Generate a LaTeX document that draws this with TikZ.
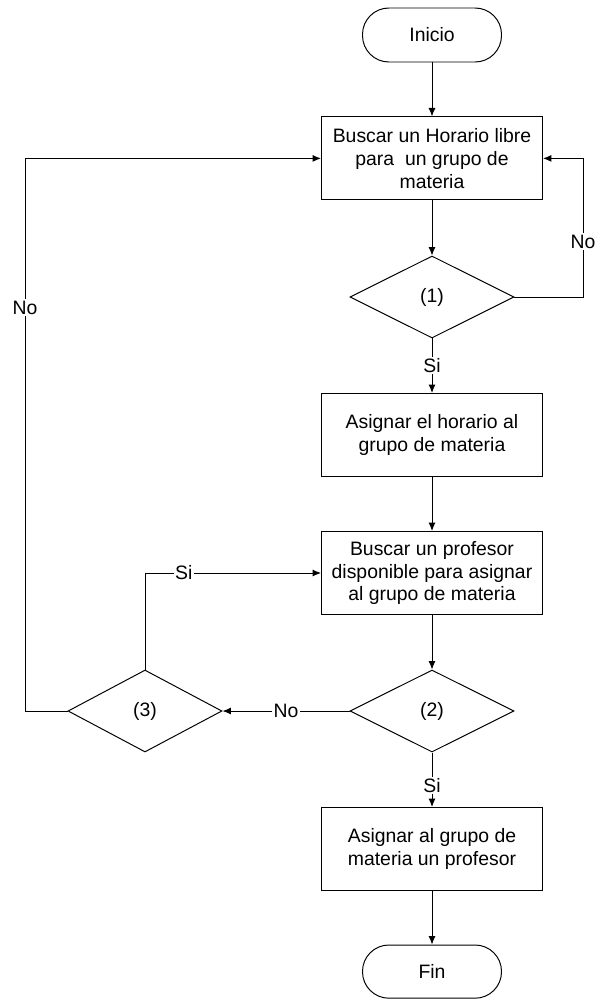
\documentclass[tikz,border=0pt]{standalone}
\usepackage{fontspec}
\setmainfont{Liberation Sans}
\usetikzlibrary{shapes.geometric,positioning,calc,arrows.meta}
\newcommand{\diagfont}{\fontsize{13.8pt}{16.3pt}\selectfont}

\begin{document}
\begin{tikzpicture}
    [>={Latex[length=6pt,width=5pt]},line width=0.7pt,
     proceso/.style={draw,rectangle,minimum width=5.525cm,minimum height=2.075cm,align=center,font=\diagfont,inner sep=2pt},
     decision/.style={draw,diamond,aspect=2,minimum width=4.1cm,minimum height=2.05cm,inner sep=0pt,font=\diagfont},
     terminal/.style={draw,rectangle,rounded corners=0.66cm,minimum width=3.475cm,minimum height=1.35cm,font=\diagfont},
     etiqueta/.style={fill=white,inner sep=1pt,font=\diagfont}]

    \useasboundingbox (0,0) rectangle (14.875,-25);

    \node[terminal] (inicio) at (10.8,-0.875) {Inicio};
    \node[proceso] (horario) at (10.8,-3.96) {Buscar un Horario libre\\para\ \ un grupo de\\materia};
    \node[decision] (cond1) at (10.8,-7.425) {(1)};
    \node[proceso] (asignarh) at (10.8,-10.875) {Asignar el horario al\\grupo de materia};
    \node[proceso] (profesor) at (10.8,-14.325) {Buscar un profesor\\disponible para asignar\\al grupo de materia};
    \node[decision] (cond2) at (10.8,-17.775) {(2)};
    \node[decision,minimum width=3.85cm,minimum height=2.05cm,aspect=1.88] (cond3) at (3.625,-17.775) {(3)};
    \node[proceso] (asignarp) at (10.8,-21.225) {Asignar al grupo de\\materia un profesor};
    \node[terminal,minimum height=1.33cm] (fin) at (10.8,-24.29) {Fin};

    \coordinate (der) at (14.575,0);
    \coordinate (izq) at (0.625,0);

    \draw[->] (inicio) -- (horario);
    \draw[->] (horario) -- (cond1);
    \draw[->] (cond1) -- node[etiqueta] {Si} (asignarh);
    \draw[->] (cond1.east) -- (cond1.east -| der) -- node[etiqueta,pos=0.4] {No} (horario.east -| der) -- (horario.east);
    \draw[->] (asignarh) -- (profesor);
    \draw[->] (profesor) -- (cond2);
    \draw[->] (cond2) -- node[etiqueta,pos=0.6] {Si} (asignarp);
    \draw[->] (cond2.west) -- node[etiqueta] {No} (cond3.east);
    \draw[->] (cond3.north) -- (cond3.north |- profesor.west) -- node[etiqueta,pos=0.22] {Si} (profesor.west);
    \draw[->] (cond3.west) -- (cond3.west -| izq) -- node[etiqueta,pos=0.73] {No} (horario.west -| izq) -- (horario.west);
    \draw[->] (asignarp) -- (fin);

\end{tikzpicture}
\end{document}
